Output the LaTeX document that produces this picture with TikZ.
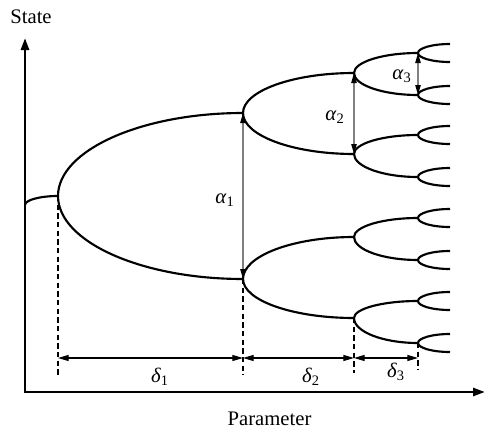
\documentclass[tikz,border=0pt]{standalone}
\usepackage{fontspec}
\setmainfont{Liberation Serif}
\usetikzlibrary{arrows.meta, calc}

% rama de bifurcacion (cuarto de elipse)
\newcommand{\rama}[2]{\draw[linea] (#1) .. controls ($(#1)!0.55!(#1 |- #2)$) and ($(#2)!0.55!(#1 |- #2)$) .. (#2);}
\newcommand{\sym}[2]{\textit{#1}\textsubscript{#2}}

\begin{document}
\begin{tikzpicture}[
		% un pixel de la figura
		x=0.75pt, y=-0.75pt,
		% Estilos
		eje/.style={line width=2pt, -{Triangle[length=9pt,width=6pt]}},
		linea/.style={line width=1.6pt},
		guia/.style={line width=0.8pt, dash pattern=on 4pt off 2.5pt},
		cota/.style={line width=0.8pt, {Triangle[length=8pt,width=4.5pt]}-{Triangle[length=8pt,width=4.5pt]}},
		amplitud/.style={line width=1pt, draw=black!50, {Triangle[length=7.5pt,width=4pt,color=black]}-{Triangle[length=7.5pt,width=4pt,color=black]}},
		etiqueta/.style={font=\fontsize{15.5}{18}\selectfont, inner sep=1pt}
		]
		\useasboundingbox (0,0) rectangle (486,432);
		
		% --- EJES ---
		\coordinate (origen) at (25,392);
		\coordinate (ytope) at (25,38);
		\coordinate (xfin) at (485,392);
		\draw[eje] (origen) -- (ytope);
		\draw[eje] ([xshift=-0.75pt]origen) -- (xfin);
		\node[etiqueta, anchor=base] (estado) at (31,23) {State};
		\node[etiqueta, anchor=base] (parametro) at (269.5,425) {Parameter};
		
		% --- PUNTOS DE BIFURCACION ---
		\coordinate (inicio) at (25,205);
		\coordinate (b1) at (58,196);
		\coordinate (b2s) at (243,113);
		\coordinate (b2i) at (243,279);
		\coordinate (b3ss) at (354,73);
		\coordinate (b3si) at (354,154);
		\coordinate (b3is) at (354,237);
		\coordinate (b3ii) at (354,318);
		
		% ultimo nivel, con sus horquillas
		\foreach \yy [count=\i] in {53,95,135,177,218,260,301,343}{
			\coordinate (c\i) at (418,\yy);
			\coordinate (h\i s) at (450,\yy-9);
			\coordinate (h\i i) at (450,\yy+9);
			\rama{c\i}{h\i s}
			\rama{c\i}{h\i i}
		}
		
		% --- RAMAS ---
		\rama{inicio}{b1}
		\rama{b1}{b2s} \rama{b1}{b2i}
		\rama{b2s}{b3ss} \rama{b2s}{b3si}
		\rama{b2i}{b3is} \rama{b2i}{b3ii}
		\rama{b3ss}{c1} \rama{b3ss}{c2}
		\rama{b3si}{c3} \rama{b3si}{c4}
		\rama{b3is}{c5} \rama{b3is}{c6}
		\rama{b3ii}{c7} \rama{b3ii}{c8}
		
		% --- LINEAS GUIA Y COTAS ---
		\coordinate (g1) at (58,375);
		\coordinate (g2) at (243,375);
		\coordinate (g3) at (354,373);
		\coordinate (g4) at (418,370);
		\draw[guia] (b1) -- (g1);
		\draw[guia] (b2i) -- (g2);
		\draw[guia] (b3ii) -- (g3);
		\draw[guia] (c8) -- (g4);
		
		\coordinate (cotay) at (0,358);
		\draw[cota] (b1 |- cotay) -- (b2i |- cotay);
		\draw[cota] (b2i |- cotay) -- (b3ii |- cotay);
		\draw[cota] (b3ii |- cotay) -- (c8 |- cotay);
		\node[etiqueta] (delta1) at (160,377) {\sym{δ}{1}};
		\node[etiqueta] (delta2) at (311,377) {\sym{δ}{2}};
		\node[etiqueta] (delta3) at (396,372) {\sym{δ}{3}};
		
		% --- AMPLITUDES ---
		\draw[amplitud] (b2i) -- (b2s);
		\draw[amplitud] (b3si) -- (b3ss);
		\draw[amplitud] (c2) -- (c1);
		\node[etiqueta] (alfa1) at (225,200) {\sym{α}{1}};
		\node[etiqueta] (alfa2) at (335,117) {\sym{α}{2}};
		\node[etiqueta] (alfa3) at (402,76) {\sym{α}{3}};
		
	\end{tikzpicture}
\end{document}
